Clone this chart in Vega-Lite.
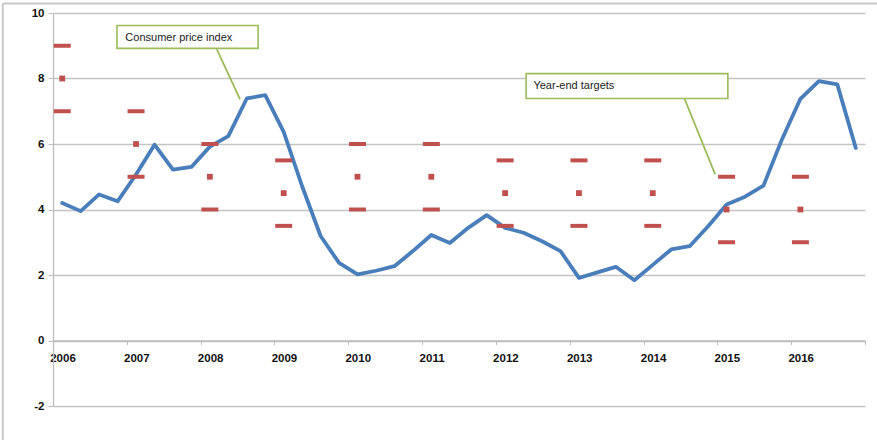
{
  "$schema": "https://vega.github.io/schema/vega-lite/v6.json",
  "width": 812,
  "height": 393,
  "autosize": {"type": "none"},
  "padding": {"left": 53, "top": 13, "right": 12, "bottom": 34},
  "background": "#ffffff",
  "config": {
    "view": {"stroke": null},
    "font": "Liberation Sans"
  },
  "datasets": {
    "cpi": [
      {"t": 2006.125, "cpi": 4.20}, {"t": 2006.375, "cpi": 3.95}, {"t": 2006.625, "cpi": 4.46}, {"t": 2006.875, "cpi": 4.25},
      {"t": 2007.125, "cpi": 5.07}, {"t": 2007.375, "cpi": 5.98}, {"t": 2007.625, "cpi": 5.22}, {"t": 2007.875, "cpi": 5.30},
      {"t": 2008.125, "cpi": 5.92}, {"t": 2008.375, "cpi": 6.24}, {"t": 2008.625, "cpi": 7.39}, {"t": 2008.875, "cpi": 7.49},
      {"t": 2009.125, "cpi": 6.37}, {"t": 2009.375, "cpi": 4.71}, {"t": 2009.625, "cpi": 3.19}, {"t": 2009.875, "cpi": 2.37},
      {"t": 2010.125, "cpi": 2.02}, {"t": 2010.375, "cpi": 2.13}, {"t": 2010.625, "cpi": 2.27}, {"t": 2010.875, "cpi": 2.73},
      {"t": 2011.125, "cpi": 3.22}, {"t": 2011.375, "cpi": 2.98}, {"t": 2011.625, "cpi": 3.44}, {"t": 2011.875, "cpi": 3.83},
      {"t": 2012.125, "cpi": 3.44}, {"t": 2012.375, "cpi": 3.29}, {"t": 2012.625, "cpi": 3.03}, {"t": 2012.875, "cpi": 2.73},
      {"t": 2013.125, "cpi": 1.91}, {"t": 2013.375, "cpi": 2.08}, {"t": 2013.625, "cpi": 2.25}, {"t": 2013.875, "cpi": 1.84},
      {"t": 2014.125, "cpi": 2.31}, {"t": 2014.375, "cpi": 2.78}, {"t": 2014.625, "cpi": 2.88}, {"t": 2014.875, "cpi": 3.49},
      {"t": 2015.125, "cpi": 4.15}, {"t": 2015.375, "cpi": 4.39}, {"t": 2015.625, "cpi": 4.73}, {"t": 2015.875, "cpi": 6.14},
      {"t": 2016.125, "cpi": 7.38}, {"t": 2016.375, "cpi": 7.92}, {"t": 2016.625, "cpi": 7.82}, {"t": 2016.875, "cpi": 5.88}
    ],
    "targets": [
      {"t": 2006.125, "upper": 9, "point": 8, "lower": 7},
      {"t": 2007.125, "upper": 7, "point": 6, "lower": 5},
      {"t": 2008.125, "upper": 6, "point": 5, "lower": 4},
      {"t": 2009.125, "upper": 5.5, "point": 4.5, "lower": 3.5},
      {"t": 2010.125, "upper": 6, "point": 5, "lower": 4},
      {"t": 2011.125, "upper": 6, "point": 5, "lower": 4},
      {"t": 2012.125, "upper": 5.5, "point": 4.5, "lower": 3.5},
      {"t": 2013.125, "upper": 5.5, "point": 4.5, "lower": 3.5},
      {"t": 2014.125, "upper": 5.5, "point": 4.5, "lower": 3.5},
      {"t": 2015.125, "upper": 5, "point": 4, "lower": 3},
      {"t": 2016.125, "upper": 5, "point": 4, "lower": 3}
    ],
    "single": [{}]
  },
  "layer": [
    {
      "description": "chart-area frame, top edge",
      "data": {"name": "single"},
      "mark": {"type": "rule", "color": "#c8c8c8", "strokeWidth": 2, "clip": false},
      "encoding": {
        "x": {"datum": 2005.32, "type": "quantitative", "scale": {"domain": [2006, 2017], "nice": false, "zero": false},
          "axis": {
            "values": [2006, 2007, 2008, 2009, 2010, 2011, 2012, 2013, 2014, 2015, 2016, 2017],
            "format": "d",
            "labelExpr": "datum.value == 2017 ? '' : datum.label",
            "title": null,
            "grid": false,
            "offset": {"expr": "scale('y', 0) - height"},
            "domainColor": "#bdbdbd",
            "domainWidth": 1.3,
            "tickColor": "#bdbdbd",
            "tickSize": 4,
            "labelOffset": 9.5,
            "labelPadding": 8,
            "labelFlush": false,
            "labelOverlap": false,
            "labelFont": "Liberation Sans",
            "labelFontSize": 11.5,
            "labelFontWeight": "bold",
            "labelColor": "#111111"
          }},
        "x2": {"datum": 2018},
        "y": {"datum": 10.29, "type": "quantitative", "scale": {"domain": [-2, 10], "nice": false, "zero": false},
          "axis": {
            "values": [-2, 0, 2, 4, 6, 8, 10],
            "labelExpr": "datum.value < 0 ? '-' + abs(datum.value) : datum.label",
            "title": null,
            "grid": true,
            "gridColor": "#c4c4c4",
            "gridWidth": 1.3,
            "domainColor": "#bdbdbd",
            "domainWidth": 1.3,
            "tickColor": "#bdbdbd",
            "tickSize": 5,
            "labelPadding": 4,
            "labelFont": "Liberation Sans",
            "labelFontSize": 11.5,
            "labelFontWeight": "bold",
            "labelColor": "#111111"
          }}
      }
    },
    {
      "description": "chart-area frame, left edge",
      "data": {"name": "single"},
      "mark": {"type": "rule", "color": "#c8c8c8", "strokeWidth": 2, "clip": false},
      "encoding": {
        "x": {"datum": 2005.32, "type": "quantitative"},
        "y": {"datum": 10.29, "type": "quantitative"},
        "y2": {"datum": -4}
      }
    },
    {
      "data": {"name": "cpi"},
      "mark": {"type": "line", "color": "#4a7ebb", "strokeWidth": 3.8, "strokeJoin": "round", "strokeCap": "round"},
      "encoding": {
        "x": {"field": "t", "type": "quantitative"},
        "y": {"field": "cpi", "type": "quantitative"}
      }
    },
    {
      "data": {"name": "targets"},
      "mark": {"type": "tick", "orient": "horizontal", "size": 17, "thickness": 4, "color": "#c0504d", "opacity": 1},
      "encoding": {
        "x": {"field": "t", "type": "quantitative"},
        "y": {"field": "upper", "type": "quantitative"}
      }
    },
    {
      "data": {"name": "targets"},
      "mark": {"type": "tick", "orient": "horizontal", "size": 17, "thickness": 4, "color": "#c0504d", "opacity": 1},
      "encoding": {
        "x": {"field": "t", "type": "quantitative"},
        "y": {"field": "lower", "type": "quantitative"}
      }
    },
    {
      "data": {"name": "targets"},
      "mark": {"type": "square", "size": 34, "filled": true, "color": "#c0504d", "opacity": 1},
      "encoding": {
        "x": {"field": "t", "type": "quantitative"},
        "y": {"field": "point", "type": "quantitative"}
      }
    },
    {
      "description": "callout leader for the CPI label",
      "data": {"name": "single"},
      "mark": {"type": "rule", "color": "#9bbb59", "strokeWidth": 1.8},
      "encoding": {
        "x": {"datum": 2008.218, "type": "quantitative"},
        "x2": {"datum": 2008.534},
        "y": {"datum": 8.9, "type": "quantitative"},
        "y2": {"datum": 7.36}
      }
    },
    {
      "description": "callout leader for the targets label",
      "data": {"name": "single"},
      "mark": {"type": "rule", "color": "#9bbb59", "strokeWidth": 1.8},
      "encoding": {
        "x": {"datum": 2014.554, "type": "quantitative"},
        "x2": {"datum": 2014.97},
        "y": {"datum": 7.39, "type": "quantitative"},
        "y2": {"datum": 5.07}
      }
    },
    {
      "data": {"name": "single"},
      "mark": {"type": "rect", "fill": "#ffffff", "stroke": "#9bbb59", "strokeWidth": 1.6},
      "encoding": {
        "x": {"datum": 2006.867, "type": "quantitative"},
        "x2": {"datum": 2008.778},
        "y": {"datum": 9.62, "type": "quantitative"},
        "y2": {"datum": 8.92}
      }
    },
    {
      "data": {"name": "single"},
      "mark": {"type": "rect", "fill": "#ffffff", "stroke": "#9bbb59", "strokeWidth": 1.6},
      "encoding": {
        "x": {"datum": 2012.409, "type": "quantitative"},
        "x2": {"datum": 2015.142},
        "y": {"datum": 8.15, "type": "quantitative"},
        "y2": {"datum": 7.39}
      }
    },
    {
      "data": {"name": "single"},
      "mark": {"type": "text", "align": "left", "baseline": "middle", "font": "Liberation Sans", "fontSize": 11, "color": "#222222"},
      "encoding": {
        "x": {"datum": 2006.98, "type": "quantitative"},
        "y": {"datum": 9.24, "type": "quantitative"},
        "text": {"value": "Consumer price index"}
      }
    },
    {
      "data": {"name": "single"},
      "mark": {"type": "text", "align": "left", "baseline": "middle", "font": "Liberation Sans", "fontSize": 11, "color": "#222222"},
      "encoding": {
        "x": {"datum": 2012.508, "type": "quantitative"},
        "y": {"datum": 7.76, "type": "quantitative"},
        "text": {"value": "Year-end targets"}
      }
    }
  ]
}
